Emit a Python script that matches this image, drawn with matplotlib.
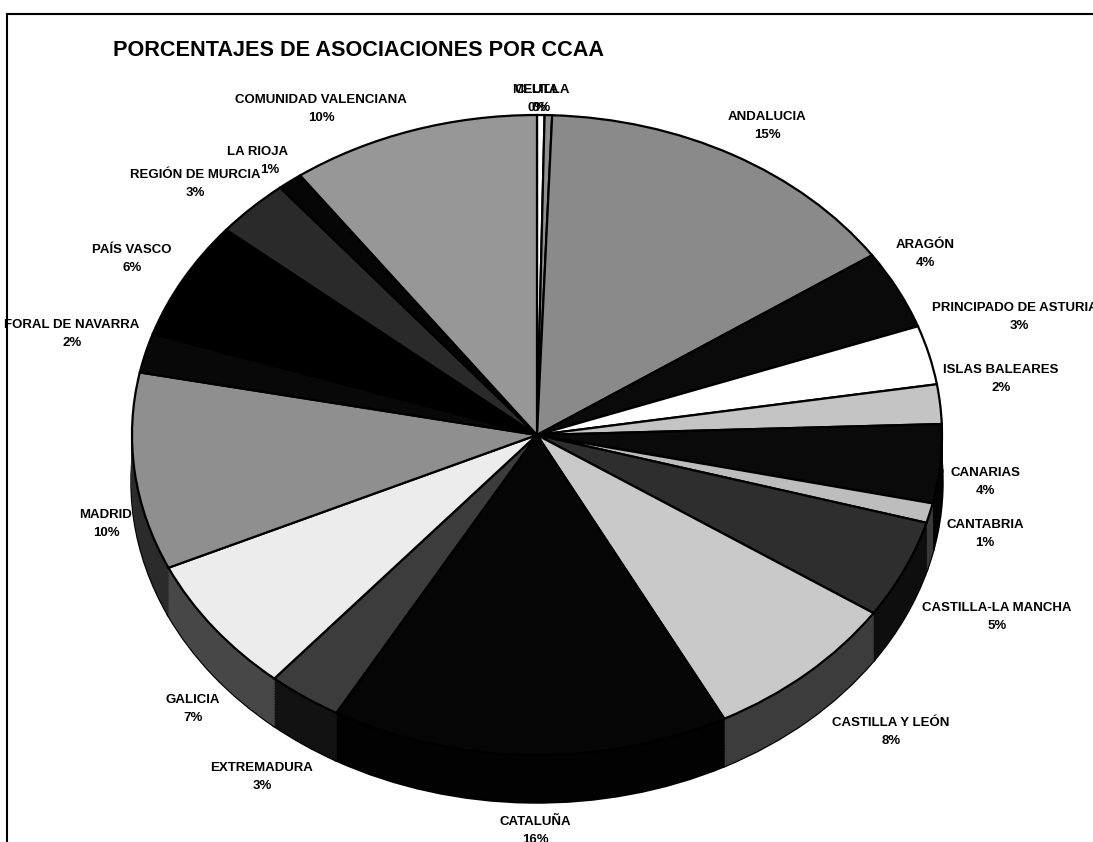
import matplotlib
matplotlib.use('Agg')
import matplotlib.pyplot as plt
from matplotlib.lines import Line2D
from matplotlib.colors import to_rgb

# ---------------- data ----------------
title = 'PORCENTAJES DE ASOCIACIONES POR CCAA'
regions = ['CEUTA', 'MELILLA', 'ANDALUCIA', 'ARAGÓN', 'PRINCIPADO DE ASTURIAS',
           'ISLAS BALEARES', 'CANARIAS', 'CANTABRIA', 'CASTILLA-LA MANCHA',
           'CASTILLA Y LEÓN', 'CATALUÑA', 'EXTREMADURA', 'GALICIA', 'MADRID',
           'FORAL DE NAVARRA', 'PAÍS VASCO', 'REGIÓN DE MURCIA', 'LA RIOJA',
           'COMUNIDAD VALENCIANA']
values = [0.3, 0.3, 15, 4, 3, 2, 4, 1, 5, 8, 16, 3, 7, 10, 2, 6, 3, 1, 10]

# ---------------- style ----------------
top_colors = ['#ffffff', '#909090', '#8a8a8a', '#0a0a0a', '#ffffff',
              '#c4c4c4', '#0a0a0a', '#bdbdbd', '#2e2e2e', '#c9c9c9',
              '#050505', '#3c3c3c', '#ececec', '#8f8f8f', '#080808',
              '#000000', '#2a2a2a', '#050505', '#979797']
side_colors = [tuple(c * 0.3 for c in to_rgb(col)) for col in top_colors]

# label positions (pixel coords, top-left origin) of the name line
label_pos = [(537, 90), (541, 90), (767, 117), (925, 245), (1019, 308),
             (1001, 370), (985, 473), (985, 525), (997, 608), (891, 723),
             (535, 822), (262, 768), (193, 700), (106, 515), (72, 325),
             (132, 250), (195, 175), (258, 152), (321, 100)]
pct_dx = {17: 12}

W, H = 1093, 842
CX, CY, A, B, D = 537, 435, 405, 320, 47
FONT = 'Liberation Sans'

fig = plt.figure(figsize=(W / 100, H / 100), dpi=100)
fig.patch.set_facecolor('white')
ax = fig.add_axes([0, 0, 1, 1])

def fxy(x, y):
    return x / W, 1 - y / H

common = dict(startangle=90, counterclock=False, radius=1)

# outline of the bottom of the cylinder
w, _ = ax.pie(values, colors=['black'] * len(values), center=(0, -D / B),
              wedgeprops=dict(edgecolor='black', linewidth=2.5), **common)

# extruded side
n = 30
for i in range(n, 0, -1):
    d = D * i / n / B
    wedges, _ = ax.pie(values, colors=side_colors, center=(0, -d), **common)
    for wd in wedges:
        wd.set_edgecolor(wd.get_facecolor())
        wd.set_linewidth(0.8)

# top face
wedges, _ = ax.pie(values, colors=top_colors, center=(0, 0),
                   wedgeprops=dict(edgecolor='black', linewidth=1.6), **common)

ax.set_aspect('auto')
ax.set_xlim(-CX / A, (W - CX) / A)
ax.set_ylim(-(H - CY) / B, CY / B)
ax.axis('off')

# labels
for i, (name, v) in enumerate(zip(regions, values)):
    x, y = label_pos[i]
    fig.text(*fxy(x, y), name, ha='center', va='center', fontsize=9.5,
             fontweight='bold', family=FONT, color='black')
    fig.text(*fxy(x + pct_dx.get(i, 0), y + 18), f'{round(v):.0f}%',
             ha='center', va='center', fontsize=9.5, fontweight='bold',
             family=FONT, color='black')

fig.text(*fxy(113, 51), title, ha='left', va='center', fontsize=15.6,
         fontweight='bold', family=FONT, color='black')

# chart frame
fig.add_artist(Line2D([7 / W, 1], [1 - 14 / H, 1 - 14 / H],
                      transform=fig.transFigure, color='black', lw=1.5))
fig.add_artist(Line2D([7 / W, 7 / W], [0, 1 - 14 / H],
                      transform=fig.transFigure, color='black', lw=1.5))

fig.savefig('out.png', dpi=100, facecolor='white')
